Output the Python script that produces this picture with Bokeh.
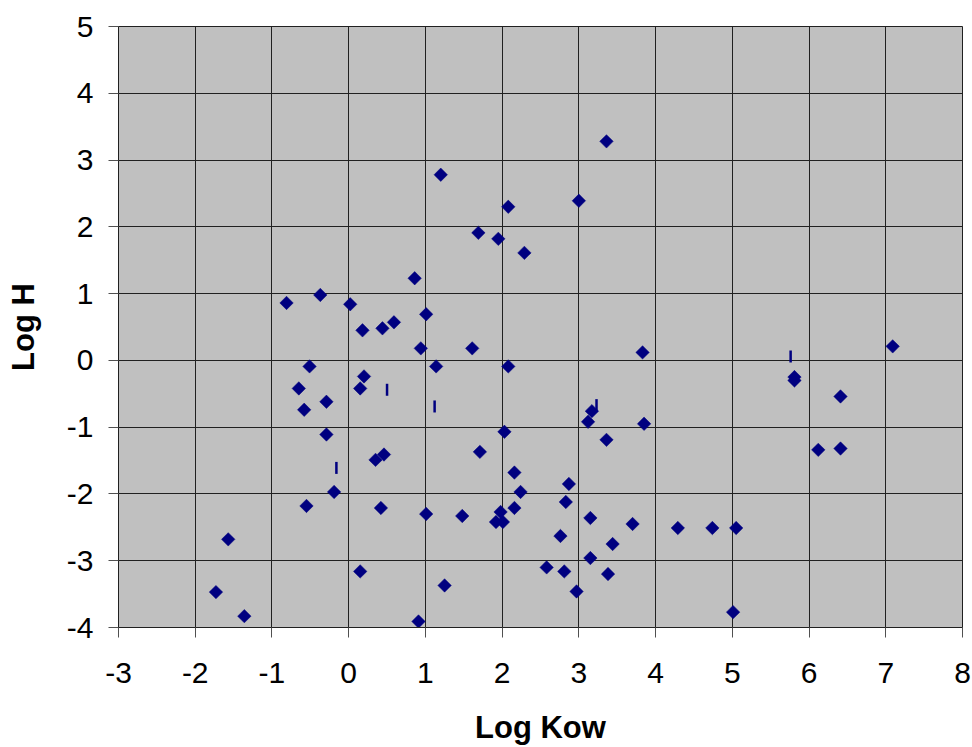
import math
from bokeh.plotting import figure
from bokeh.models import ColumnDataSource, Range1d, FixedTicker
from bokeh.embed import file_html
from bokeh.resources import INLINE

# Series 1: diamonds (Log Kow, Log H)
log_kow = [-0.81, -0.37, 0.02, 0.18, 0.44, 0.59, 3.36, 1.20, 3.00, 2.08,
           1.69, 1.95, 2.29, 0.86, 1.01, -0.51, -0.65, 0.20, 0.15, -0.29,
           -0.58, -0.29, 0.35, 0.46, -0.19, -0.55, 0.42, -1.57, 0.15, -1.73,
           -1.36, 0.94, 1.61, 3.83, 1.14, 2.08, 3.17, 3.12, 3.85, 2.03,
           3.36, 1.71, 2.16, 2.87, 2.24, 2.83, 2.16, 1.01, 1.48, 1.98,
           1.92, 2.01, 3.15, 3.70, 4.29, 2.76, 3.44, 3.15, 2.58, 2.81,
           3.38, 1.25, 2.97, 0.91, 7.09, 5.81, 5.81, 6.41, 6.12, 6.41,
           4.74, 5.05, 5.01]
log_h = [0.86, 0.98, 0.84, 0.45, 0.48, 0.57, 3.28, 2.78, 2.39, 2.30,
         1.91, 1.82, 1.61, 1.23, 0.69, -0.09, -0.42, -0.24, -0.42, -0.62,
         -0.74, -1.11, -1.49, -1.41, -1.97, -2.18, -2.21, -2.68, -3.16, -3.47,
         -3.83, 0.18, 0.18, 0.12, -0.09, -0.09, -0.76, -0.92, -0.95, -1.07,
         -1.19, -1.37, -1.68, -1.85, -1.97, -2.12, -2.21, -2.30, -2.33, -2.27,
         -2.42, -2.42, -2.36, -2.45, -2.51, -2.63, -2.75, -2.96, -3.10, -3.16,
         -3.20, -3.37, -3.46, -3.91, 0.21, -0.25, -0.30, -0.54, -1.34, -1.32,
         -2.51, -2.51, -3.77]

# Series 2: short vertical bar markers
bar_kow = [0.50, 1.12, -0.16, 3.23, 5.76]
bar_h = [-0.44, -0.69, -1.61, -0.67, 0.06]

x_ticks = list(range(-3, 9))
y_ticks = list(range(-4, 6))
x_tick_labels = {t: str(t) for t in x_ticks}
y_tick_labels = {t: str(t) for t in y_ticks}

p = figure(width=972, height=747, output_backend="svg", toolbar_location=None,
           x_range=Range1d(-3, 8), y_range=Range1d(-4, 5))
p.min_border_left = 118
p.min_border_right = 10
p.min_border_top = 26
p.min_border_bottom = 118
p.background_fill_color = "#C0C0C0"
p.border_fill_color = "white"
p.outline_line_color = "#202020"
p.outline_line_width = 1

for ax in (p.xaxis[0], p.yaxis[0]):
    ax.major_label_text_font = "Liberation Sans"
    ax.major_label_text_font_size = "30px"
    ax.major_label_text_color = "black"
    ax.axis_label_text_font = "Liberation Sans"
    ax.axis_label_text_font_style = "bold"
    ax.axis_label_text_font_size = "31px"
    ax.axis_label_text_color = "black"
    ax.axis_line_color = "#202020"
    ax.axis_line_width = 1
    ax.major_tick_line_color = "#505050"
    ax.major_tick_in = 0
    ax.major_tick_out = 10
    ax.minor_tick_line_color = None

p.xaxis[0].ticker = FixedTicker(ticks=x_ticks)
p.yaxis[0].ticker = FixedTicker(ticks=y_ticks)
p.xaxis[0].major_label_overrides = x_tick_labels
p.yaxis[0].major_label_overrides = y_tick_labels
p.xaxis[0].axis_label = "Log Kow"
p.yaxis[0].axis_label = "Log H"
p.xaxis[0].major_label_standoff = 25
p.xaxis[0].axis_label_standoff = 24
p.yaxis[0].major_label_standoff = 15
p.yaxis[0].axis_label_standoff = 23

p.xgrid[0].ticker = FixedTicker(ticks=x_ticks)
p.ygrid[0].ticker = FixedTicker(ticks=y_ticks)
for g in (p.xgrid[0], p.ygrid[0]):
    g.grid_line_color = "#202020"
    g.grid_line_width = 1

src = ColumnDataSource(dict(x=log_kow, y=log_h))
p.scatter("x", "y", source=src, marker="square", size=9.5, angle=math.pi / 4,
          fill_color="#000080", line_color="#000080", line_width=0.5)

src2 = ColumnDataSource(dict(x=bar_kow, y=bar_h))
p.scatter("x", "y", source=src2, marker="dash", size=12, angle=math.pi / 2,
          line_color="#000080", line_width=2.5)

open("out.html", "w").write(file_html(p, INLINE))
